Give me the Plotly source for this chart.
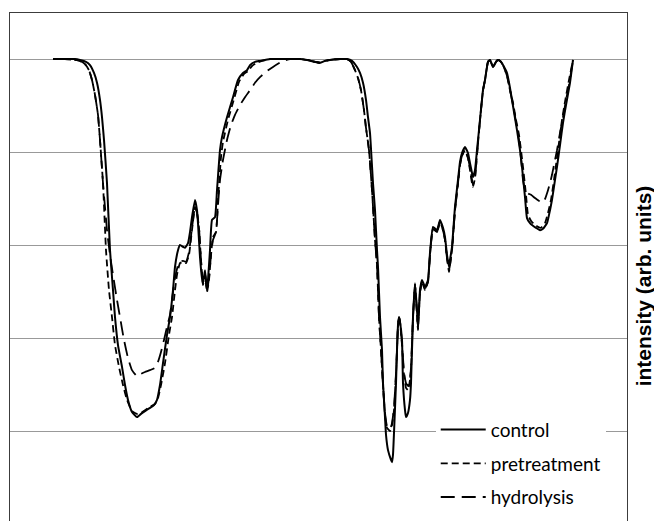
import plotly.graph_objects as go

# x: position along the spectrum (arbitrary units); y: intensity (arb. units, %)
control_x = [0,12,22,27,33,37,41,44,47,49,
             51,54,57,60,62,65,69,72,75,79,
             84,88,92,97,101,104,107,110,114,117,
             120,122,125,127,130,132,135,137,139,142,
             144,145,147,149,150,152,154,155,157,159,
             162,164,167,169,174,180,185,190,194,197,
             202,207,217,227,237,247,254,262,267,272,
             277,287,294,299,304,307,310,313,315,317,
             320,322,324,325,327,329,330,332,333,335,
             338,339,340,341,343,344,345,346,347,349,
             350,352,353,355,357,358,360,362,364,365,
             367,369,372,375,377,380,384,387,390,392,
             394,396,397,399,402,405,407,409,412,415,
             417,419,420,422,424,427,430,432,435,437,
             440,443,445,448,450,454,457,459,462,464,
             467,469,472,474,477,479,483,487,490,494,
             497,499,502,504,507,510,513,517,520]
control_y = [100.2,100.2,100.2,100.0,99.6,98.9,97.2,95.1,91.4,87.7,
             82.8,73.5,59.1,50.5,44.7,38.7,34.0,30.1,26.9,24.3,
             23.2,23.9,24.5,25.2,25.8,26.9,30.1,34.8,40.9,44.7,
             50.5,55.5,59.1,60.2,59.8,59.6,60.6,63.0,66.2,69.9,
             67.7,64.9,57.6,53.1,52.0,54.8,50.5,52.7,59.1,65.6,
             66.2,72.0,80.6,83.4,87.7,92.0,95.7,97.2,97.8,98.9,
             99.6,99.8,100.2,100.2,100.2,100.2,100.0,99.6,99.4,99.8,
             100.0,100.2,100.2,99.8,98.5,97.2,95.1,91.4,87.7,84.3,
             73.5,67.7,59.1,55.5,44.7,37.6,30.5,23.2,19.4,16.1,
             14.0,13.5,15.1,19.8,30.5,37.6,43.0,44.7,43.7,39.8,
             30.5,24.7,23.2,24.1,26.9,30.5,44.7,52.0,46.2,42.6,
             50.5,52.7,51.2,52.7,58.5,64.1,63.4,65.6,63.9,61.9,
             58.1,55.5,57.0,59.8,68.4,74.2,78.1,80.0,81.3,80.0,
             77.8,75.7,74.8,76.3,80.6,87.1,93.5,95.7,99.6,100.0,
             98.5,99.6,100.0,99.6,98.9,97.2,94.0,91.4,87.5,84.9,
             80.6,77.0,70.5,66.0,64.9,64.5,63.9,63.4,63.7,64.9,
             67.7,69.9,74.2,77.0,81.7,86.5,90.3,95.1,100.0]

pretreatment_x = [0,12,22,27,32,36,39,42,45,47,
                  50,53,56,59,62,66,70,74,79,84,
                  88,92,97,102,105,108,112,116,119,122,
                  124,127,130,133,136,139,142,144,146,148,
                  150,152,154,156,158,160,163,165,168,170,
                  175,181,186,191,195,199,204,209,217,227,
                  237,247,254,262,267,272,277,287,294,298,
                  302,305,308,311,313,316,319,322,324,326,
                  328,330,332,334,337,339,341,343,344,345,
                  346,347,349,351,353,355,357,358,360,362,
                  364,365,367,369,372,375,377,380,384,387,
                  390,392,394,396,397,399,402,405,407,409,
                  412,415,417,419,420,422,424,427,430,432,
                  435,437,440,443,445,448,450,454,457,460,
                  463,466,468,470,473,475,478,481,485,488,
                  492,495,498,501,503,506,509,512,516,520]
pretreatment_y = [100.2,100.2,100.0,99.8,99.1,97.8,95.7,92.5,88.2,82.8,
                  73.5,59.1,50.5,44.7,38.7,34.0,30.1,26.9,24.5,23.9,
                  24.1,24.7,25.4,26.0,27.3,30.1,34.8,40.9,44.7,50.5,
                  53.8,56.3,56.6,56.3,58.1,63.4,68.4,67.1,63.9,57.0,
                  51.6,53.8,50.1,52.7,58.1,61.9,63.0,69.9,79.1,82.4,
                  87.1,91.6,95.3,97.0,97.6,98.7,99.4,99.8,100.2,100.2,
                  100.2,100.2,100.0,99.6,99.4,99.8,100.0,100.2,100.2,99.6,
                  97.8,96.1,93.5,89.2,85.4,80.6,72.0,61.3,55.9,44.7,
                  37.6,30.1,23.7,20.9,20.2,21.5,24.7,32.3,37.6,43.0,
                  44.7,43.7,38.7,32.3,29.5,29.0,31.2,33.3,44.7,51.6,
                  45.2,41.9,49.9,52.3,50.5,52.3,58.1,63.7,63.0,65.2,
                  63.4,61.3,57.4,54.4,55.9,59.1,67.7,73.5,77.4,79.4,
                  80.6,78.9,76.3,73.5,72.7,74.6,79.6,87.1,93.5,95.7,
                  99.6,100.0,98.5,99.6,100.0,99.6,98.9,96.6,93.5,90.8,
                  87.1,83.9,80.6,77.0,71.0,66.7,65.4,64.7,64.1,63.9,
                  64.9,67.1,69.9,74.2,77.4,82.2,87.1,91.0,95.7,100.0]

hydrolysis_x = [0,12,22,27,32,36,39,42,45,47,
                50,54,57,60,64,67,71,75,79,84,
                88,92,97,102,105,108,111,114,117,120,
                122,125,127,130,133,136,139,142,144,146,
                148,150,152,154,156,158,160,163,165,167,
                170,174,178,182,187,192,197,202,207,214,
                220,230,237,247,254,262,267,272,277,287,
                294,298,302,305,308,311,313,316,319,322,
                324,326,328,330,332,334,337,339,341,343,
                344,345,346,347,349,351,353,355,357,358,
                360,362,364,365,367,369,372,375,377,380,
                384,387,390,392,394,396,397,399,402,405,
                407,409,412,415,417,419,420,422,424,427,
                430,432,435,437,440,443,445,448,450,454,
                457,460,463,466,468,470,472,474,478,482,
                486,489,492,495,497,499,502,504,507,510,
                513,516,520]
hydrolysis_y = [100.2,100.2,100.0,99.8,99.1,97.8,95.7,92.5,88.2,82.8,
                73.5,63.4,58.1,53.8,48.4,44.7,39.8,35.9,33.3,32.0,
                32.5,32.9,33.3,33.8,35.1,37.2,39.8,42.6,45.2,50.1,
                53.1,55.9,56.6,56.8,56.6,58.7,63.9,68.4,67.1,63.9,
                57.0,52.0,54.2,50.5,53.1,58.1,61.3,63.0,68.8,74.2,
                78.5,82.8,86.0,88.2,90.3,92.0,93.5,95.1,96.3,97.6,
                98.5,99.8,100.2,100.2,100.0,99.6,99.4,99.8,100.0,100.2,
                100.2,99.6,97.8,96.1,93.5,89.2,85.4,80.6,72.0,61.3,
                55.9,44.7,37.6,30.1,24.1,21.3,20.6,21.9,25.2,32.7,
                37.6,43.0,44.7,43.7,39.1,32.9,30.5,29.9,31.6,33.8,
                44.7,51.6,45.6,42.4,50.1,52.3,50.8,52.3,58.1,63.7,
                63.0,65.2,63.4,61.3,57.4,54.8,55.9,59.1,67.7,73.5,
                77.4,79.4,80.6,78.9,76.8,74.2,73.1,74.8,79.6,87.1,
                93.5,95.7,99.6,100.0,98.5,99.6,100.0,99.6,98.9,96.6,
                93.5,90.3,86.7,82.8,78.9,74.2,72.0,71.4,71.0,70.3,
                69.7,69.2,70.1,72.0,73.5,75.3,78.5,80.6,84.3,87.7,
                91.4,94.6,100.0]

series_names = ["control", "pretreatment", "hydrolysis"]
axis_title = "intensity (arb. units)"

fig = go.Figure()
styles = [dict(dash="solid", width=2.0),
          dict(dash="7px,4px", width=1.8),
          dict(dash="14px,7px", width=1.8)]
for name, xs, ys, st in zip(series_names,
                            [control_x, pretreatment_x, hydrolysis_x],
                            [control_y, pretreatment_y, hydrolysis_y],
                            styles):
    fig.add_trace(go.Scatter(
        x=xs, y=ys, name=name, mode="lines", legendgroup=name,
        line=dict(color="black", width=st["width"], dash=st["dash"],
                  shape="spline", smoothing=0.4),
    ))

fig.update_layout(
    width=654, height=521,
    margin=dict(l=10, r=27, t=13, b=0),
    paper_bgcolor="white", plot_bgcolor="white",
    showlegend=True,
    legend=dict(
        x=0.69, y=0.217, xanchor="left", yanchor="top",
        bgcolor="white", borderwidth=0,
        font=dict(family="Lato, Carlito, sans-serif", size=19, color="black"),
        itemwidth=45, tracegroupgap=6,
    ),
    xaxis=dict(range=[-43, 574], side="top", showline=True, linecolor="#3c3c3c",
               linewidth=1.2, showgrid=False, zeroline=False, ticks="",
               showticklabels=False, automargin=False),
    yaxis=dict(range=[0.86, 110.1], showline=True, mirror=True, linecolor="#3c3c3c",
               linewidth=1.2, showgrid=True, gridcolor="#999999", gridwidth=1.4,
               tick0=0, dtick=20, zeroline=False, ticks="", showticklabels=False,
               automargin=False),
    annotations=[dict(
        text="<b>" + axis_title + "</b>", textangle=-90,
        xref="paper", yref="paper", x=1.026, y=0.462,
        xanchor="center", yanchor="middle", showarrow=False,
        font=dict(family="Liberation Sans, Arial, sans-serif", size=21, color="black"),
    )],
)

fig.write_html("out.html")
